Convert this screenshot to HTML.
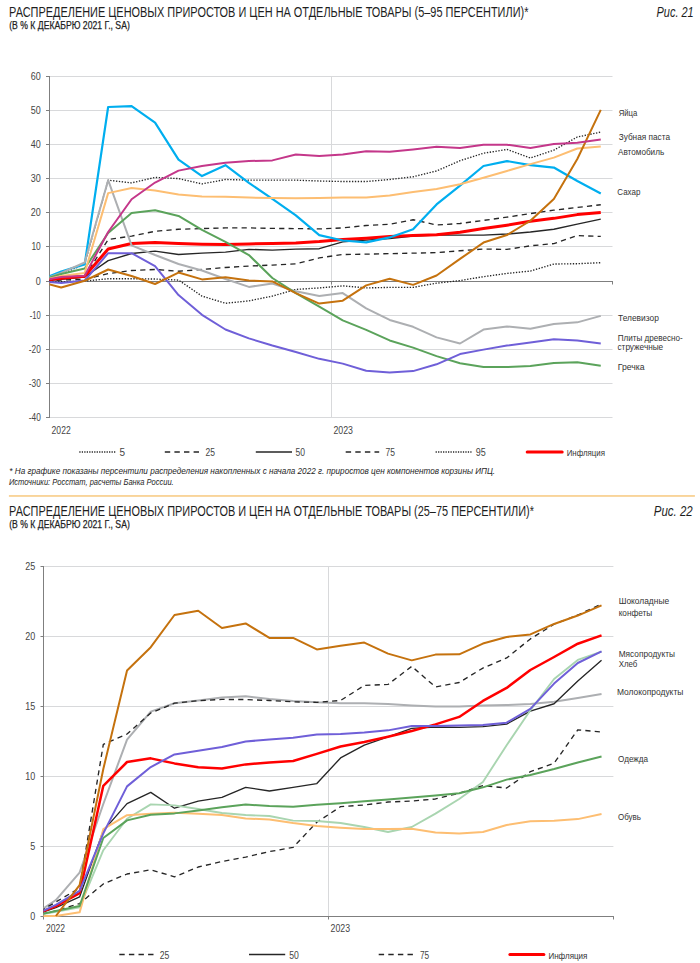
<!DOCTYPE html><html><head><meta charset="utf-8"><style>html,body{margin:0;padding:0;background:#fff;}svg{display:block;}text{font-family:"Liberation Sans",sans-serif;}</style></head><body>
<svg width="700" height="963" viewBox="0 0 700 963">
<defs><clipPath id="cp1"><rect x="49.5" y="0" width="568.0" height="500"/></clipPath><clipPath id="cp2"><rect x="43.5" y="500" width="574.4" height="463"/></clipPath></defs>
<rect width="700" height="963" fill="#fff"/>
<text x="9.10" y="16.50" font-size="14.4" fill="#1e1e1e" textLength="519.30" lengthAdjust="spacingAndGlyphs">РАСПРЕДЕЛЕНИЕ ЦЕНОВЫХ ПРИРОСТОВ И ЦЕН НА ОТДЕЛЬНЫЕ ТОВАРЫ (5–95 ПЕРСЕНТИЛИ)*</text>
<text x="9.2" y="28.90" font-size="10.9" fill="#1e1e1e" stroke="#1e1e1e" stroke-width="0.25" textLength="120.6" lengthAdjust="spacingAndGlyphs">(В % К ДЕКАБРЮ 2021 Г., SA)</text>
<text x="656.50" y="16.60" font-size="13.8" fill="#1e1e1e" textLength="37.20" lengthAdjust="spacingAndGlyphs" font-style="italic">Рис. 21</text>
<line x1="49.50" y1="76.50" x2="612.50" y2="76.50" stroke="#d8d9db" stroke-width="1" stroke-linecap="butt"/>
<line x1="49.50" y1="110.50" x2="612.50" y2="110.50" stroke="#d8d9db" stroke-width="1" stroke-linecap="butt"/>
<line x1="49.50" y1="144.50" x2="612.50" y2="144.50" stroke="#d8d9db" stroke-width="1" stroke-linecap="butt"/>
<line x1="49.50" y1="178.50" x2="612.50" y2="178.50" stroke="#d8d9db" stroke-width="1" stroke-linecap="butt"/>
<line x1="49.50" y1="212.50" x2="612.50" y2="212.50" stroke="#d8d9db" stroke-width="1" stroke-linecap="butt"/>
<line x1="49.50" y1="246.50" x2="612.50" y2="246.50" stroke="#d8d9db" stroke-width="1" stroke-linecap="butt"/>
<line x1="49.50" y1="315.50" x2="612.50" y2="315.50" stroke="#d8d9db" stroke-width="1" stroke-linecap="butt"/>
<line x1="49.50" y1="349.50" x2="612.50" y2="349.50" stroke="#d8d9db" stroke-width="1" stroke-linecap="butt"/>
<line x1="49.50" y1="383.50" x2="612.50" y2="383.50" stroke="#d8d9db" stroke-width="1" stroke-linecap="butt"/>
<line x1="49.50" y1="417.50" x2="612.50" y2="417.50" stroke="#d8d9db" stroke-width="1" stroke-linecap="butt"/>
<line x1="331.50" y1="76.50" x2="331.50" y2="417.50" stroke="#d8d9db" stroke-width="1" stroke-linecap="butt"/>
<line x1="49.50" y1="76.00" x2="49.50" y2="418.00" stroke="#7f7f7f" stroke-width="1" stroke-linecap="butt"/>
<line x1="46.00" y1="76.50" x2="49.50" y2="76.50" stroke="#7f7f7f" stroke-width="1" stroke-linecap="butt"/>
<text x="40.80" y="79.95" font-size="10.2" fill="#454545" text-anchor="end" textLength="10.00" lengthAdjust="spacingAndGlyphs">60</text>
<line x1="46.00" y1="110.50" x2="49.50" y2="110.50" stroke="#7f7f7f" stroke-width="1" stroke-linecap="butt"/>
<text x="40.80" y="114.05" font-size="10.2" fill="#454545" text-anchor="end" textLength="10.00" lengthAdjust="spacingAndGlyphs">50</text>
<line x1="46.00" y1="144.50" x2="49.50" y2="144.50" stroke="#7f7f7f" stroke-width="1" stroke-linecap="butt"/>
<text x="40.80" y="148.15" font-size="10.2" fill="#454545" text-anchor="end" textLength="10.00" lengthAdjust="spacingAndGlyphs">40</text>
<line x1="46.00" y1="178.50" x2="49.50" y2="178.50" stroke="#7f7f7f" stroke-width="1" stroke-linecap="butt"/>
<text x="40.80" y="182.25" font-size="10.2" fill="#454545" text-anchor="end" textLength="10.00" lengthAdjust="spacingAndGlyphs">30</text>
<line x1="46.00" y1="212.50" x2="49.50" y2="212.50" stroke="#7f7f7f" stroke-width="1" stroke-linecap="butt"/>
<text x="40.80" y="216.35" font-size="10.2" fill="#454545" text-anchor="end" textLength="10.00" lengthAdjust="spacingAndGlyphs">20</text>
<line x1="46.00" y1="246.50" x2="49.50" y2="246.50" stroke="#7f7f7f" stroke-width="1" stroke-linecap="butt"/>
<text x="40.80" y="250.45" font-size="10.2" fill="#454545" text-anchor="end" textLength="9.40" lengthAdjust="spacingAndGlyphs">10</text>
<line x1="46.00" y1="281.50" x2="49.50" y2="281.50" stroke="#7f7f7f" stroke-width="1" stroke-linecap="butt"/>
<text x="40.80" y="284.55" font-size="10.2" fill="#454545" text-anchor="end" textLength="5.00" lengthAdjust="spacingAndGlyphs">0</text>
<line x1="46.00" y1="315.50" x2="49.50" y2="315.50" stroke="#7f7f7f" stroke-width="1" stroke-linecap="butt"/>
<text x="40.80" y="318.65" font-size="10.2" fill="#454545" text-anchor="end" textLength="11.00" lengthAdjust="spacingAndGlyphs">-10</text>
<line x1="46.00" y1="349.50" x2="49.50" y2="349.50" stroke="#7f7f7f" stroke-width="1" stroke-linecap="butt"/>
<text x="40.80" y="352.75" font-size="10.2" fill="#454545" text-anchor="end" textLength="12.00" lengthAdjust="spacingAndGlyphs">-20</text>
<line x1="46.00" y1="383.50" x2="49.50" y2="383.50" stroke="#7f7f7f" stroke-width="1" stroke-linecap="butt"/>
<text x="40.80" y="386.85" font-size="10.2" fill="#454545" text-anchor="end" textLength="12.00" lengthAdjust="spacingAndGlyphs">-30</text>
<line x1="46.00" y1="417.50" x2="49.50" y2="417.50" stroke="#7f7f7f" stroke-width="1" stroke-linecap="butt"/>
<text x="40.80" y="420.95" font-size="10.2" fill="#454545" text-anchor="end" textLength="12.00" lengthAdjust="spacingAndGlyphs">-40</text>
<line x1="49.50" y1="281.50" x2="613.00" y2="281.50" stroke="#7f7f7f" stroke-width="1" stroke-linecap="butt"/>
<line x1="49.50" y1="281.50" x2="49.50" y2="284.50" stroke="#7f7f7f" stroke-width="1" stroke-linecap="butt"/>
<line x1="331.50" y1="281.50" x2="331.50" y2="284.50" stroke="#7f7f7f" stroke-width="1" stroke-linecap="butt"/>
<line x1="612.50" y1="281.50" x2="612.50" y2="284.50" stroke="#7f7f7f" stroke-width="1" stroke-linecap="butt"/>
<text x="51.60" y="433.70" font-size="10.2" fill="#454545" textLength="19.10" lengthAdjust="spacingAndGlyphs">2022</text>
<text x="333.40" y="433.70" font-size="10.2" fill="#454545" textLength="19.50" lengthAdjust="spacingAndGlyphs">2023</text>
<polyline points="37.77,281.10 61.23,281.78 84.69,281.10 108.15,278.71 131.60,278.71 155.06,279.05 178.52,280.08 201.98,296.10 225.44,303.27 248.90,300.88 272.35,296.10 295.81,289.45 319.27,287.92 342.73,285.87 366.19,287.92 389.65,287.41 413.10,287.41 436.56,283.15 460.02,280.59 483.48,276.67 506.94,273.43 530.40,271.04 553.85,264.05 577.31,263.71 600.77,262.69" fill="none" stroke="#262626" stroke-width="1.35" stroke-linejoin="round" stroke-dasharray="1.35 1.55" clip-path="url(#cp1)"/>
<polyline points="37.77,281.10 61.23,280.08 84.69,279.40 108.15,273.60 131.60,270.53 155.06,269.51 178.52,271.21 201.98,269.51 225.44,267.46 248.90,266.10 272.35,265.07 295.81,263.88 319.27,257.91 342.73,254.50 366.19,254.16 389.65,253.65 413.10,253.14 436.56,252.63 460.02,250.75 483.48,249.05 506.94,249.39 530.40,245.81 553.85,243.59 577.31,235.58 600.77,236.43" fill="none" stroke="#262626" stroke-width="1.35" stroke-linejoin="round" stroke-dasharray="5.2 4.2" clip-path="url(#cp1)"/>
<polyline points="37.77,281.10 61.23,279.40 84.69,277.01 108.15,260.64 131.60,253.48 155.06,251.09 178.52,254.50 201.98,253.14 225.44,252.12 248.90,249.39 272.35,250.07 295.81,249.05 319.27,248.71 342.73,241.89 366.19,240.18 389.65,238.48 413.10,236.09 436.56,235.07 460.02,235.07 483.48,235.07 506.94,234.04 530.40,232.00 553.85,229.27 577.31,224.15 600.77,219.04" fill="none" stroke="#262626" stroke-width="1.35" stroke-linejoin="round" clip-path="url(#cp1)"/>
<polyline points="37.77,281.10 61.23,279.05 84.69,277.01 108.15,239.50 131.60,236.09 155.06,231.31 178.52,229.27 201.98,228.59 225.44,227.90 248.90,227.90 272.35,228.42 295.81,228.59 319.27,228.93 342.73,227.90 366.19,225.52 389.65,224.32 413.10,219.72 436.56,225.01 460.02,223.47 483.48,220.40 506.94,217.16 530.40,213.58 553.85,210.17 577.31,207.44 600.77,204.72" fill="none" stroke="#262626" stroke-width="1.35" stroke-linejoin="round" stroke-dasharray="5.2 4.2" clip-path="url(#cp1)"/>
<polyline points="37.77,281.10 61.23,274.28 84.69,264.05 108.15,180.16 131.60,182.89 155.06,177.44 178.52,178.60 201.98,183.92 225.44,179.48 248.90,180.16 272.35,180.16 295.81,180.16 319.27,181.02 342.73,181.53 366.19,181.53 389.65,179.48 413.10,176.75 436.56,170.96 460.02,160.73 483.48,153.23 506.94,149.47 530.40,158.00 553.85,150.16 577.31,137.03 600.77,132.08" fill="none" stroke="#262626" stroke-width="1.35" stroke-linejoin="round" stroke-dasharray="1.35 1.55" clip-path="url(#cp1)"/>
<polyline points="37.77,281.10 61.23,278.37 84.69,276.33 108.15,249.05 131.60,243.42 155.06,242.40 178.52,243.59 201.98,244.27 225.44,244.61 248.90,243.93 272.35,243.59 295.81,242.91 319.27,241.54 342.73,239.50 366.19,238.13 389.65,236.60 413.10,235.58 436.56,234.72 460.02,232.34 483.48,228.59 506.94,225.18 530.40,221.25 553.85,218.36 577.31,214.61 600.77,212.56" fill="none" stroke="#ff0000" stroke-width="3.0" stroke-linejoin="round" clip-path="url(#cp1)"/>
<polyline points="37.77,281.10 61.23,271.55 84.69,264.39 108.15,107.02 131.60,106.17 155.06,122.54 178.52,159.70 201.98,176.07 225.44,165.16 248.90,182.89 272.35,198.92 295.81,215.29 319.27,235.07 342.73,240.52 366.19,242.40 389.65,237.45 413.10,229.27 436.56,204.38 460.02,185.62 483.48,166.01 506.94,161.07 530.40,165.16 553.85,167.55 577.31,181.02 600.77,193.46" fill="none" stroke="#00aeef" stroke-width="2.2" stroke-linejoin="round" clip-path="url(#cp1)"/>
<polyline points="37.77,281.10 61.23,272.92 84.69,262.52 108.15,180.16 131.60,245.30 155.06,255.01 178.52,264.05 201.98,270.53 225.44,279.05 248.90,286.90 272.35,283.49 295.81,291.33 319.27,296.10 342.73,293.04 366.19,308.38 389.65,319.97 413.10,326.79 436.56,337.37 460.02,343.50 483.48,329.52 506.94,326.45 530.40,328.84 553.85,324.07 577.31,322.36 600.77,315.88" fill="none" stroke="#adafb2" stroke-width="2.0" stroke-linejoin="round" clip-path="url(#cp1)"/>
<polyline points="37.77,281.10 61.23,273.94 84.69,268.48 108.15,233.02 131.60,212.90 155.06,210.17 178.52,215.97 201.98,229.95 225.44,241.89 248.90,255.01 272.35,278.03 295.81,293.04 319.27,306.68 342.73,320.32 366.19,329.86 389.65,340.43 413.10,347.60 436.56,356.12 460.02,363.28 483.48,367.03 506.94,367.03 530.40,366.01 553.85,362.94 577.31,362.26 600.77,365.67" fill="none" stroke="#5ba35b" stroke-width="2.0" stroke-linejoin="round" clip-path="url(#cp1)"/>
<polyline points="37.77,281.10 61.23,282.98 84.69,280.59 108.15,253.14 131.60,253.14 155.06,266.10 178.52,295.08 201.98,314.86 225.44,329.52 248.90,338.39 272.35,345.55 295.81,352.03 319.27,358.85 342.73,363.62 366.19,370.78 389.65,372.49 413.10,371.12 436.56,364.30 460.02,354.07 483.48,349.64 506.94,345.55 530.40,342.48 553.85,339.24 577.31,340.43 600.77,343.50" fill="none" stroke="#6f5fd8" stroke-width="2.0" stroke-linejoin="round" clip-path="url(#cp1)"/>
<polyline points="37.77,281.10 61.23,275.99 84.69,272.92 108.15,193.12 131.60,188.01 155.06,190.39 178.52,194.49 201.98,196.53 225.44,196.87 248.90,197.56 272.35,197.90 295.81,198.24 319.27,197.90 342.73,197.56 366.19,197.56 389.65,195.51 413.10,192.10 436.56,189.03 460.02,184.26 483.48,177.78 506.94,170.96 530.40,164.14 553.85,157.66 577.31,148.45 600.77,146.41" fill="none" stroke="#fdbe72" stroke-width="2.0" stroke-linejoin="round" clip-path="url(#cp1)"/>
<polyline points="37.77,281.10 61.23,287.58 84.69,280.76 108.15,269.51 131.60,275.99 155.06,284.00 178.52,272.58 201.98,279.40 225.44,277.35 248.90,280.59 272.35,281.44 295.81,293.04 319.27,303.61 342.73,300.71 366.19,285.40 389.65,278.71 413.10,284.85 436.56,275.47 460.02,258.94 483.48,242.57 506.94,235.07 530.40,220.74 553.85,199.09 577.31,159.02 600.77,109.92" fill="none" stroke="#c5720e" stroke-width="2.0" stroke-linejoin="round" clip-path="url(#cp1)"/>
<polyline points="37.77,281.10 61.23,277.01 84.69,275.64 108.15,232.00 131.60,199.26 155.06,182.55 178.52,170.62 201.98,166.01 225.44,162.77 248.90,161.07 272.35,160.39 295.81,154.59 319.27,155.95 342.73,154.59 366.19,151.18 389.65,151.86 413.10,149.47 436.56,146.75 460.02,148.11 483.48,144.70 506.94,144.70 530.40,148.11 553.85,144.02 577.31,142.65 600.77,139.59" fill="none" stroke="#c4378a" stroke-width="2.0" stroke-linejoin="round" clip-path="url(#cp1)"/>
<text x="618.70" y="116.10" font-size="9.7" fill="#333333" textLength="18.60" lengthAdjust="spacingAndGlyphs">Яйца</text>
<text x="618.70" y="140.10" font-size="9.7" fill="#333333" textLength="51.30" lengthAdjust="spacingAndGlyphs">Зубная паста</text>
<text x="618.00" y="154.60" font-size="9.7" fill="#333333" textLength="46.20" lengthAdjust="spacingAndGlyphs">Автомобиль</text>
<text x="617.30" y="195.10" font-size="9.7" fill="#333333" textLength="23.10" lengthAdjust="spacingAndGlyphs">Сахар</text>
<text x="618.00" y="320.80" font-size="9.7" fill="#333333" textLength="40.80" lengthAdjust="spacingAndGlyphs">Телевизор</text>
<text x="617.70" y="340.90" font-size="9.7" fill="#333333" textLength="65.10" lengthAdjust="spacingAndGlyphs">Плиты древесно-</text>
<text x="617.50" y="350.40" font-size="9.7" fill="#333333" textLength="45.70" lengthAdjust="spacingAndGlyphs">стружечные</text>
<text x="617.70" y="370.00" font-size="9.7" fill="#333333" textLength="26.90" lengthAdjust="spacingAndGlyphs">Гречка</text>
<line x1="79.30" y1="452.00" x2="115.50" y2="452.00" stroke="#262626" stroke-width="1.3" stroke-dasharray="1.25 1.23" stroke-linecap="butt"/>
<text x="119.60" y="455.60" font-size="10.0" fill="#454545">5</text>
<line x1="164.80" y1="452.00" x2="199.30" y2="452.00" stroke="#262626" stroke-width="1.5" stroke-dasharray="5.4 4.2" stroke-linecap="butt"/>
<text x="205.40" y="455.60" font-size="10.0" fill="#454545" textLength="9.50" lengthAdjust="spacingAndGlyphs">25</text>
<line x1="255.80" y1="452.00" x2="292.00" y2="452.00" stroke="#262626" stroke-width="1.5" stroke-linecap="butt"/>
<text x="295.60" y="455.60" font-size="10.0" fill="#454545" textLength="9.50" lengthAdjust="spacingAndGlyphs">50</text>
<line x1="345.70" y1="452.00" x2="379.20" y2="452.00" stroke="#262626" stroke-width="1.5" stroke-dasharray="5.4 4.2" stroke-linecap="butt"/>
<text x="385.50" y="455.60" font-size="10.0" fill="#454545" textLength="9.50" lengthAdjust="spacingAndGlyphs">75</text>
<line x1="435.60" y1="452.00" x2="471.50" y2="452.00" stroke="#262626" stroke-width="1.3" stroke-dasharray="1.25 1.23" stroke-linecap="butt"/>
<text x="475.70" y="455.60" font-size="10.0" fill="#454545" textLength="10.00" lengthAdjust="spacingAndGlyphs">95</text>
<line x1="527.20" y1="452.00" x2="562.20" y2="452.00" stroke="#ff0000" stroke-width="3.0" stroke-linecap="round"/>
<text x="566.70" y="456.00" font-size="9.2" fill="#333" textLength="38.30" lengthAdjust="spacingAndGlyphs">Инфляция</text>
<text x="9.30" y="474.30" font-size="9.3" fill="#262626" textLength="485.80" lengthAdjust="spacingAndGlyphs" font-style="italic">* На графике показаны персентили распределения накопленных с начала 2022 г. приростов цен компонентов корзины ИПЦ.</text>
<text x="8.90" y="485.00" font-size="9.3" fill="#262626" textLength="164.80" lengthAdjust="spacingAndGlyphs" font-style="italic">Источники: Росстат, расчеты Банка России.</text>
<rect x="8.9" y="495" width="686" height="1.9" fill="#f9d49a"/>
<text x="9.10" y="515.50" font-size="14.4" fill="#1e1e1e" textLength="524.80" lengthAdjust="spacingAndGlyphs">РАСПРЕДЕЛЕНИЕ ЦЕНОВЫХ ПРИРОСТОВ И ЦЕН НА ОТДЕЛЬНЫЕ ТОВАРЫ (25–75 ПЕРСЕНТИЛИ)*</text>
<text x="9.2" y="527.90" font-size="10.9" fill="#1e1e1e" stroke="#1e1e1e" stroke-width="0.25" textLength="120.6" lengthAdjust="spacingAndGlyphs">(В % К ДЕКАБРЮ 2021 Г., SA)</text>
<text x="653.80" y="515.60" font-size="13.8" fill="#1e1e1e" textLength="38.90" lengthAdjust="spacingAndGlyphs" font-style="italic">Рис. 22</text>
<line x1="44.00" y1="566.50" x2="613.40" y2="566.50" stroke="#d8d9db" stroke-width="1" stroke-linecap="butt"/>
<line x1="44.00" y1="636.50" x2="613.40" y2="636.50" stroke="#d8d9db" stroke-width="1" stroke-linecap="butt"/>
<line x1="44.00" y1="706.50" x2="613.40" y2="706.50" stroke="#d8d9db" stroke-width="1" stroke-linecap="butt"/>
<line x1="44.00" y1="776.50" x2="613.40" y2="776.50" stroke="#d8d9db" stroke-width="1" stroke-linecap="butt"/>
<line x1="44.00" y1="846.50" x2="613.40" y2="846.50" stroke="#d8d9db" stroke-width="1" stroke-linecap="butt"/>
<line x1="328.50" y1="566.50" x2="328.50" y2="916.50" stroke="#d8d9db" stroke-width="1" stroke-linecap="butt"/>
<line x1="43.50" y1="566.00" x2="43.50" y2="917.00" stroke="#7f7f7f" stroke-width="1" stroke-linecap="butt"/>
<line x1="40.50" y1="566.50" x2="43.50" y2="566.50" stroke="#7f7f7f" stroke-width="1" stroke-linecap="butt"/>
<text x="35.30" y="569.90" font-size="10.2" fill="#454545" text-anchor="end" textLength="10.00" lengthAdjust="spacingAndGlyphs">25</text>
<line x1="40.50" y1="636.50" x2="43.50" y2="636.50" stroke="#7f7f7f" stroke-width="1" stroke-linecap="butt"/>
<text x="35.30" y="639.90" font-size="10.2" fill="#454545" text-anchor="end" textLength="10.00" lengthAdjust="spacingAndGlyphs">20</text>
<line x1="40.50" y1="706.50" x2="43.50" y2="706.50" stroke="#7f7f7f" stroke-width="1" stroke-linecap="butt"/>
<text x="35.30" y="709.90" font-size="10.2" fill="#454545" text-anchor="end" textLength="10.00" lengthAdjust="spacingAndGlyphs">15</text>
<line x1="40.50" y1="776.50" x2="43.50" y2="776.50" stroke="#7f7f7f" stroke-width="1" stroke-linecap="butt"/>
<text x="35.30" y="779.90" font-size="10.2" fill="#454545" text-anchor="end" textLength="10.00" lengthAdjust="spacingAndGlyphs">10</text>
<line x1="40.50" y1="846.50" x2="43.50" y2="846.50" stroke="#7f7f7f" stroke-width="1" stroke-linecap="butt"/>
<text x="35.30" y="849.90" font-size="10.2" fill="#454545" text-anchor="end" textLength="5.00" lengthAdjust="spacingAndGlyphs">5</text>
<line x1="40.50" y1="916.50" x2="43.50" y2="916.50" stroke="#7f7f7f" stroke-width="1" stroke-linecap="butt"/>
<text x="35.30" y="919.90" font-size="10.2" fill="#454545" text-anchor="end" textLength="5.00" lengthAdjust="spacingAndGlyphs">0</text>
<line x1="43.50" y1="916.50" x2="613.90" y2="916.50" stroke="#7f7f7f" stroke-width="1" stroke-linecap="butt"/>
<line x1="43.50" y1="916.50" x2="43.50" y2="919.50" stroke="#7f7f7f" stroke-width="1" stroke-linecap="butt"/>
<line x1="328.50" y1="916.50" x2="328.50" y2="919.50" stroke="#7f7f7f" stroke-width="1" stroke-linecap="butt"/>
<line x1="613.50" y1="916.50" x2="613.50" y2="919.50" stroke="#7f7f7f" stroke-width="1" stroke-linecap="butt"/>
<text x="46.00" y="931.80" font-size="10.2" fill="#454545" textLength="19.10" lengthAdjust="spacingAndGlyphs">2022</text>
<text x="330.60" y="931.80" font-size="10.2" fill="#454545" textLength="19.50" lengthAdjust="spacingAndGlyphs">2023</text>
<polyline points="32.14,916.00 55.86,900.04 79.59,872.60 103.31,804.00 127.04,739.60 150.76,711.60 174.49,703.20 198.21,700.40 221.94,697.60 245.66,696.20 269.39,699.00 293.11,700.96 316.84,702.36 340.56,703.20 364.29,703.20 388.01,704.04 411.74,705.44 435.46,706.42 459.19,706.42 482.91,705.58 506.64,705.02 530.36,704.04 554.09,701.66 577.81,698.02 601.54,693.96" fill="none" stroke="#adafb2" stroke-width="2.0" stroke-linejoin="round" clip-path="url(#cp2)"/>
<polyline points="32.14,916.00 55.86,910.96 79.59,903.54 103.31,883.94 127.04,874.00 150.76,869.80 174.49,876.80 198.21,867.00 221.94,861.54 245.66,857.06 269.39,851.60 293.11,847.40 316.84,822.20 340.56,806.66 364.29,804.98 388.01,802.04 411.74,801.06 435.46,798.96 459.19,793.22 482.91,785.66 506.64,788.04 530.36,771.66 554.09,763.26 577.81,729.80 601.54,732.04" fill="none" stroke="#262626" stroke-width="1.35" stroke-linejoin="round" stroke-dasharray="5.2 4.2" clip-path="url(#cp2)"/>
<polyline points="32.14,916.00 55.86,907.60 79.59,896.96 103.31,830.60 127.04,803.58 150.76,792.38 174.49,808.20 198.21,801.20 221.94,797.42 245.66,787.34 269.39,790.98 293.11,787.34 316.84,783.56 340.56,757.94 364.29,745.06 388.01,736.94 411.74,728.40 435.46,727.00 459.19,727.42 482.91,726.58 506.64,724.06 530.36,711.04 554.09,703.76 577.81,680.94 601.54,660.36" fill="none" stroke="#262626" stroke-width="1.35" stroke-linejoin="round" clip-path="url(#cp2)"/>
<polyline points="32.14,916.00 55.86,902.00 79.59,888.00 103.31,744.36 127.04,734.00 150.76,713.00 174.49,703.20 198.21,700.68 221.94,699.42 245.66,699.56 269.39,700.54 293.11,701.80 316.84,702.36 340.56,700.54 364.29,685.42 388.01,684.44 411.74,666.38 435.46,686.96 459.19,682.48 482.91,668.06 506.64,657.98 530.36,638.94 554.09,624.24 577.81,615.00 601.54,603.94" fill="none" stroke="#262626" stroke-width="1.35" stroke-linejoin="round" stroke-dasharray="5.2 4.2" clip-path="url(#cp2)"/>
<polyline points="32.14,916.00 55.86,906.20 79.59,893.04 103.31,785.80 127.04,762.00 150.76,758.36 174.49,763.40 198.21,767.32 221.94,768.58 245.66,764.38 269.39,762.56 293.11,761.02 316.84,753.88 340.56,746.46 364.29,741.98 388.01,736.66 411.74,731.06 435.46,724.34 459.19,716.92 482.91,700.96 506.64,687.94 530.36,670.02 554.09,657.00 577.81,643.70 601.54,635.44" fill="none" stroke="#ff0000" stroke-width="2.5" stroke-linejoin="round" clip-path="url(#cp2)"/>
<polyline points="32.14,916.00 55.86,911.80 79.59,907.32 103.31,850.20 127.04,818.70 150.76,804.42 174.49,805.40 198.21,809.04 221.94,812.96 245.66,815.06 269.39,816.04 293.11,820.66 316.84,820.94 340.56,823.04 364.29,826.96 388.01,832.00 411.74,826.96 435.46,813.66 459.19,798.96 482.91,782.02 506.64,745.20 530.36,710.20 554.09,678.98 577.81,659.94 601.54,651.54" fill="none" stroke="#a9d5b0" stroke-width="1.9" stroke-linejoin="round" clip-path="url(#cp2)"/>
<polyline points="32.14,916.00 55.86,916.00 79.59,912.36 103.31,829.20 127.04,815.20 150.76,813.80 174.49,812.68 198.21,813.66 221.94,815.06 245.66,818.42 269.39,819.54 293.11,823.04 316.84,825.98 340.56,827.66 364.29,829.06 388.01,829.06 411.74,828.64 435.46,832.42 459.19,833.40 482.91,832.00 506.64,825.00 530.36,821.36 554.09,820.66 577.81,819.12 601.54,813.94" fill="none" stroke="#fdbe72" stroke-width="2.0" stroke-linejoin="round" clip-path="url(#cp2)"/>
<polyline points="32.14,916.00 55.86,910.96 79.59,906.06 103.31,838.02 127.04,820.38 150.76,814.78 174.49,813.38 198.21,810.44 221.94,807.36 245.66,804.56 269.39,805.96 293.11,806.66 316.84,804.84 340.56,803.16 364.29,801.34 388.01,799.38 411.74,797.42 435.46,795.46 459.19,793.22 482.91,787.34 506.64,779.64 530.36,775.02 554.09,769.00 577.81,762.42 601.54,756.54" fill="none" stroke="#5ba35b" stroke-width="2.0" stroke-linejoin="round" clip-path="url(#cp2)"/>
<polyline points="32.14,916.00 55.86,904.80 79.59,890.80 103.31,833.40 127.04,786.36 150.76,767.04 174.49,754.44 198.21,750.80 221.94,747.02 245.66,741.42 269.39,739.60 293.11,737.64 316.84,734.56 340.56,734.00 364.29,732.46 388.01,730.36 411.74,726.02 435.46,726.02 459.19,725.60 482.91,725.04 506.64,722.66 530.36,708.94 554.09,683.60 577.81,663.02 601.54,651.40" fill="none" stroke="#6f5fd8" stroke-width="2.0" stroke-linejoin="round" clip-path="url(#cp2)"/>
<polyline points="55.86,916.00 79.59,885.20 103.31,769.00 127.04,670.44 150.76,647.20 174.49,615.00 198.21,610.80 221.94,628.02 245.66,623.40 269.39,637.96 293.11,637.96 316.84,649.44 340.56,645.80 364.29,642.58 388.01,653.64 411.74,660.36 435.46,654.62 459.19,654.34 482.91,643.56 506.64,636.98 530.36,634.46 554.09,623.96 577.81,615.56 601.54,605.34" fill="none" stroke="#c5720e" stroke-width="2.0" stroke-linejoin="round" clip-path="url(#cp2)"/>
<text x="618.70" y="603.90" font-size="9.7" fill="#333333" textLength="50.40" lengthAdjust="spacingAndGlyphs">Шоколадные</text>
<text x="618.70" y="616.00" font-size="9.7" fill="#333333" textLength="33.50" lengthAdjust="spacingAndGlyphs">конфеты</text>
<text x="618.70" y="657.10" font-size="9.7" fill="#333333" textLength="56.20" lengthAdjust="spacingAndGlyphs">Мясопродукты</text>
<text x="618.70" y="667.10" font-size="9.7" fill="#333333" textLength="18.70" lengthAdjust="spacingAndGlyphs">Хлеб</text>
<text x="617.00" y="695.10" font-size="9.7" fill="#333333" textLength="66.30" lengthAdjust="spacingAndGlyphs">Молокопродукты</text>
<text x="618.00" y="761.60" font-size="9.7" fill="#333333" textLength="30.00" lengthAdjust="spacingAndGlyphs">Одежда</text>
<text x="618.00" y="820.00" font-size="9.7" fill="#333333" textLength="23.00" lengthAdjust="spacingAndGlyphs">Обувь</text>
<line x1="119.30" y1="954.50" x2="153.80" y2="954.50" stroke="#262626" stroke-width="1.5" stroke-dasharray="5.4 4.2" stroke-linecap="butt"/>
<text x="159.80" y="958.70" font-size="10.0" fill="#454545" textLength="9.60" lengthAdjust="spacingAndGlyphs">25</text>
<line x1="249.00" y1="954.50" x2="285.20" y2="954.50" stroke="#262626" stroke-width="1.5" stroke-linecap="butt"/>
<text x="289.20" y="958.70" font-size="10.0" fill="#454545" textLength="9.60" lengthAdjust="spacingAndGlyphs">50</text>
<line x1="378.70" y1="954.50" x2="413.40" y2="954.50" stroke="#262626" stroke-width="1.5" stroke-dasharray="5.4 4.2" stroke-linecap="butt"/>
<text x="420.00" y="958.70" font-size="10.0" fill="#454545" textLength="9.20" lengthAdjust="spacingAndGlyphs">75</text>
<line x1="509.90" y1="954.50" x2="543.90" y2="954.50" stroke="#ff0000" stroke-width="3.0" stroke-linecap="round"/>
<text x="548.40" y="958.50" font-size="9.2" fill="#333" textLength="39.00" lengthAdjust="spacingAndGlyphs">Инфляция</text>
</svg></body></html>
